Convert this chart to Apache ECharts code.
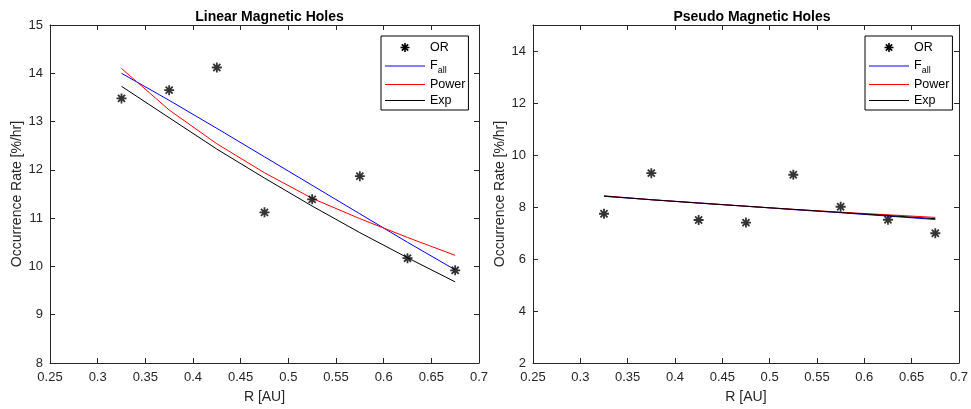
<!DOCTYPE html>
<html>
<head>
<meta charset="utf-8">
<script src="https://cdn.jsdelivr.net/npm/echarts@6/dist/echarts.min.js"></script>
<style>
html,body{margin:0;padding:0;background:#fff;}
#chart{width:971px;height:409px;}
</style>
</head>
<body>
<div id="chart"></div>
<script>
// ---- Data ----
var R = [0.325, 0.375, 0.425, 0.475, 0.525, 0.575, 0.625, 0.675];
var titles = ['Linear Magnetic Holes', 'Pseudo Magnetic Holes'];
var legendNames = ['OR', 'F_all', 'Power', 'Exp'];

// Linear magnetic holes
var linOR    = [13.48, 13.65, 14.12, 11.12, 11.39, 11.87, 10.17, 9.92];
var linFall  = [14.00, 13.44, 12.86, 12.27, 11.68, 11.09, 10.50, 9.93];
var linPower = [14.10, 13.24, 12.54, 11.94, 11.41, 10.99, 10.60, 10.23];
var linExp   = [13.73, 13.08, 12.43, 11.83, 11.25, 10.70, 10.18, 9.68];

// Pseudo magnetic holes
var psOR    = [7.74, 9.30, 7.50, 7.40, 9.24, 8.01, 7.51, 6.99];
var psFall  = [8.41, 8.28, 8.16, 8.03, 7.90, 7.78, 7.65, 7.52];
var psPower = [8.43, 8.28, 8.15, 8.03, 7.91, 7.80, 7.70, 7.60];
var psExp   = [8.42, 8.28, 8.15, 8.03, 7.91, 7.79, 7.67, 7.55];

var yRanges = [{min: 8, max: 15, interval: 1}, {min: 2, max: 15, interval: 2}];

// ---- Chart ----
var font = 'Liberation Sans, Arial, Helvetica, sans-serif';
var axisColor = '#262626';
var star = 'path://M0,4.1L10,4.1L10,5.9L0,5.9Z M4.1,0L5.9,0L5.9,10L4.1,10Z M2.1,0.83L9.17,7.9L7.9,9.17L0.83,2.1Z M0.83,7.9L7.9,0.83L9.17,2.1L2.1,9.17Z';
var lineIcon = 'path://M0,0L40,0L40,1.2L0,1.2Z';

function pairs(arr){ return R.map(function(r,i){ return [r, arr[i]]; }); }

var grids = [
  {left: 50, top: 25, width: 429, height: 338},
  {left: 533, top: 25, width: 428, height: 338}
];

var xAxes = [], yAxes = [], series = [], legends = [], titleOpts = [];
var sets = [[linOR, linFall, linPower, linExp], [psOR, psFall, psPower, psExp]];
var lineColors = ['#0000ff', '#ff0000', '#000000'];

function legendItem(name, color, icon) {
  return {name: name, icon: icon,
    itemStyle: {color: color, borderColor: color, borderWidth: 0, opacity: 1},
    lineStyle: {color: color, width: 0, opacity: 1}};
}

for (var g = 0; g < 2; g++) {
  var tickCommon = {show: true, inside: true, length: 5, lineStyle: {color: axisColor, width: 1}};
  var lineCommon = {show: true, onZero: false, lineStyle: {color: axisColor, width: 1}};
  xAxes.push({
    type: 'value', gridIndex: g, position: 'bottom', min: 0.25, max: 0.7, interval: 0.05,
    axisLine: lineCommon, axisTick: tickCommon, splitLine: {show: false},
    axisLabel: {color: axisColor, fontSize: 13, fontFamily: font, margin: 8},
    name: 'R [AU]', nameLocation: 'middle', nameGap: 27,
    nameTextStyle: {color: axisColor, fontSize: 14, fontFamily: font}
  });
  xAxes.push({
    type: 'value', gridIndex: g, position: 'top', min: 0.25, max: 0.7, interval: 0.05,
    axisLine: lineCommon, axisTick: tickCommon, splitLine: {show: false},
    axisLabel: {show: false}
  });
  var yr = yRanges[g];
  yAxes.push({
    type: 'value', gridIndex: g, position: 'left', min: yr.min, max: yr.max, interval: yr.interval,
    axisLine: lineCommon, axisTick: tickCommon, splitLine: {show: false},
    axisLabel: {color: axisColor, fontSize: 13, fontFamily: font, margin: 7, showMaxLabel: g === 0},
    name: 'Occurrence Rate [%/hr]', nameLocation: 'middle', nameGap: 26,
    nameTextStyle: {color: axisColor, fontSize: 14, fontFamily: font}
  });
  yAxes.push({
    type: 'value', gridIndex: g, position: 'right', min: yr.min, max: yr.max, interval: yr.interval,
    axisLine: lineCommon, axisTick: tickCommon, splitLine: {show: false},
    axisLabel: {show: false}
  });
  var xi = g * 2, yi = g * 2;
  var s = sets[g];
  for (var k = 0; k < 3; k++) {
    series.push({name: legendNames[k + 1], type: 'line', xAxisIndex: xi, yAxisIndex: yi, data: pairs(s[k + 1]),
      symbol: 'none', lineStyle: {color: lineColors[k], width: 1}, itemStyle: {color: lineColors[k]}, z: 2 + k});
  }
  series.push({name: 'OR', type: 'scatter', xAxisIndex: xi, yAxisIndex: yi, data: pairs(s[0]),
    symbol: star, symbolSize: 10, itemStyle: {color: '#000000'}, z: 6});

  titleOpts.push({
    text: titles[g], left: grids[g].left + grids[g].width / 2, top: 5, textAlign: 'center',
    textStyle: {fontSize: 14, fontWeight: 'bold', color: '#000', fontFamily: font}
  });
  legends.push({
    orient: 'vertical', left: g === 0 ? 381 : 865, top: 36,
    data: [
      legendItem('OR', '#000000', star),
      legendItem('F_all', '#0000ff', lineIcon),
      legendItem('Power', '#ff0000', lineIcon),
      legendItem('Exp', '#000000', lineIcon)
    ],
    itemWidth: 40, itemHeight: 9, itemGap: 3,
    padding: [5, 3, 3, 4],
    borderColor: '#000', borderWidth: 1, backgroundColor: '#fff',
    selectedMode: false,
    formatter: function (name) {
      return name === 'F_all' ? '{n|F}{s|all}' : '{n|' + name + '}';
    },
    textStyle: {
      color: '#000', fontFamily: font, fontSize: 12,
      rich: {
        n: {fontSize: 12.5, fontFamily: font, color: '#000', lineHeight: 16},
        s: {fontSize: 9, fontFamily: font, color: '#000', lineHeight: 16, padding: [9, 0, 0, 0]}
      }
    }
  });
}

var chart = echarts.init(document.getElementById('chart'), null, {renderer: 'canvas'});
chart.setOption({
  animation: false,
  backgroundColor: '#fff',
  title: titleOpts,
  grid: grids,
  xAxis: xAxes,
  yAxis: yAxes,
  legend: legends,
  series: series
});
</script>
</body>
</html>
